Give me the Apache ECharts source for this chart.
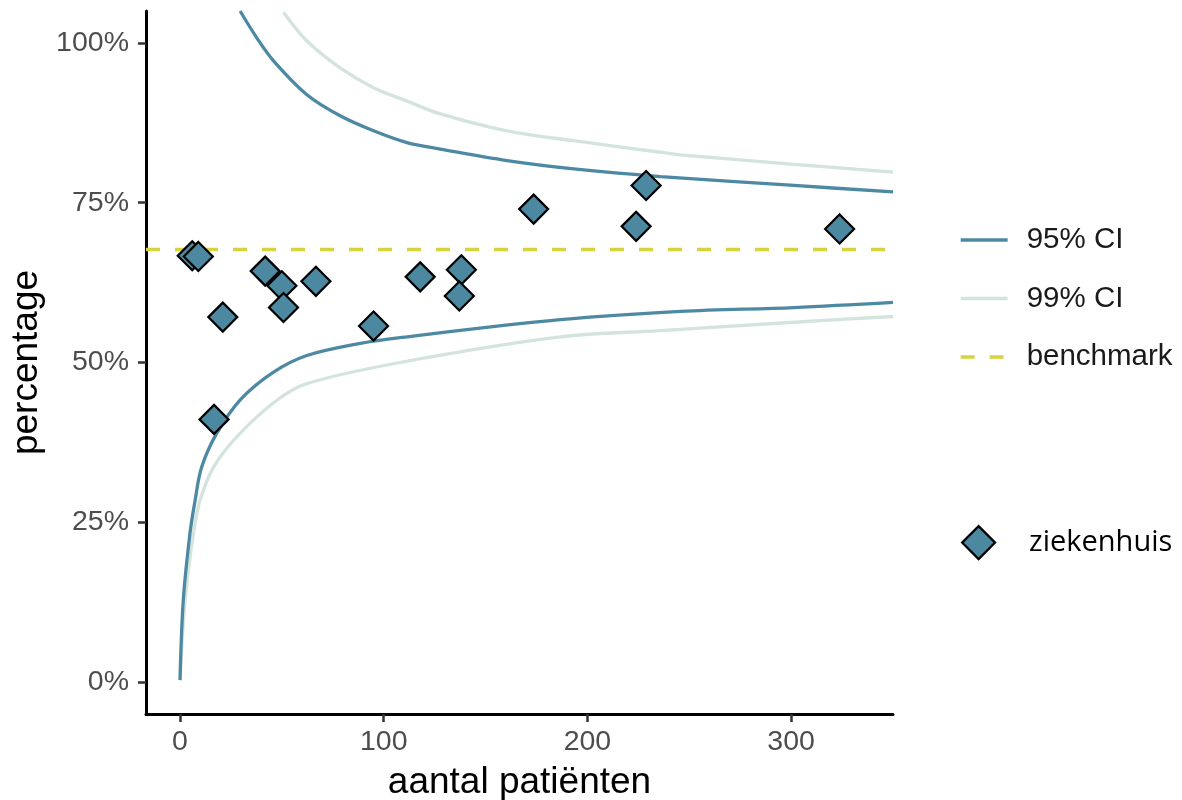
<!DOCTYPE html>
<html>
<head>
<meta charset="utf-8">
<script src="https://cdn.jsdelivr.net/npm/echarts@6/dist/echarts.min.js"></script>
<style>
  html, body { margin: 0; padding: 0; background: #fff; }
  #main { width: 1182px; height: 800px; }
</style>
</head>
<body>
<div id="main"></div>
<script>
// funnel plot: percentage per hospital against number of patients

// ziekenhuizen
const patientCounts = [6, 9, 16.7, 21, 41.8, 50, 50.8, 66.7, 95, 117.9, 138.1, 137.1, 173.6, 223.9, 228.8, 323.8];
const percentages   = [66.7, 66.6, 41.1, 57.1, 64.3, 62.0, 58.6, 62.7, 55.7, 63.4, 64.5, 60.4, 74.0, 71.3, 77.7, 70.9];

// control limits
const ci95UpperN   = [29.5, 37.7, 45.9, 62.3, 78.6, 95, 111.4, 127.8, 160.5, 193.3, 235.9, 301.4, 350];
const ci95UpperPct = [105, 100.8, 97.2, 91.9, 88.6, 86.25, 84.4, 83.4, 81.6, 80.3, 79.1, 77.7, 76.7];
const ci95LowerN   = [0, 1.6, 4.9, 7.4, 10.6, 18, 30, 45.9, 62.3, 88.5, 108, 186.7, 245.7, 301.4, 350];
const ci95LowerPct = [0.3, 12.8, 23.3, 28.4, 33.6, 38.9, 44.3, 48.5, 51.1, 53.0, 53.9, 56.7, 58.0, 58.6, 59.4];

const ci99UpperN   = [50.8, 62.3, 78.6, 95, 111.5, 127.8, 160.5, 193.3, 235.9, 245.7, 301.4, 350];
const ci99UpperPct = [104.8, 100.3, 96.1, 93.0, 90.9, 88.9, 86.25, 84.7, 82.9, 82.5, 81.0, 79.8];
const ci99LowerN   = [0, 2.5, 6.6, 9.8, 16.4, 28.5, 47.5, 62.3, 108, 186.7, 235.9, 301.4, 350];
const ci99LowerPct = [0.3, 12.8, 23.3, 28.4, 33.6, 38.6, 44.1, 46.7, 50.0, 54.0, 55.0, 56.3, 57.2];

const benchmark = 67.7;

// axes
const xMin = -16.7, xMax = 350;
const yMin = -5, yMax = 105;
const xTicks = [0, 100, 200, 300];
const yTicks = [0, 25, 50, 75, 100];

const col95 = '#4e89a4';
const col99 = '#d3e4dd';
const colBench = '#d7d33c';
const colPoint = '#4d88a1';

function zip(a, b) {
  return a.map((v, i) => [v, b[i]]);
}

const chart = echarts.init(document.getElementById('main'));

const tickFont = { fontFamily: 'Liberation Sans, Arial, sans-serif', fontSize: 28.5, color: '#4d4d4d' };
const titleFont = { fontFamily: 'Liberation Sans, Arial, sans-serif', fontSize: 37, color: '#000' };

function ciLine(name, data, color) {
  return {
    name: name,
    type: 'line',
    data: data,
    symbol: 'none',
    smooth: 0.35,
    clip: true,
    lineStyle: { color: color, width: 3.3 },
    itemStyle: { color: color },
    z: 2
  };
}

const option = {
  animation: false,
  backgroundColor: '#fff',
  grid: { left: 146, width: 747, top: 11, height: 703, outerBoundsMode: 'none' },
  xAxis: {
    type: 'value',
    min: xMin,
    max: xMax,
    name: 'aantal patiënten',
    nameLocation: 'middle',
    nameGap: 50,
    nameTextStyle: titleFont,
    splitLine: { show: false },
    axisLine: { onZero: false, lineStyle: { color: '#000', width: 3 } },
    axisTick: { customValues: xTicks, length: 8, lineStyle: { color: '#333', width: 2.5 } },
    axisLabel: Object.assign({ customValues: xTicks, margin: 14 }, tickFont)
  },
  yAxis: {
    type: 'value',
    min: yMin,
    max: yMax,
    name: 'percentage',
    nameLocation: 'middle',
    nameRotate: 90,
    nameGap: 96,
    nameTextStyle: titleFont,
    splitLine: { show: false },
    axisLine: { show: true, onZero: false, lineStyle: { color: '#000', width: 3 } },
    axisTick: { show: true, customValues: yTicks, length: 8, lineStyle: { color: '#333', width: 2.5 } },
    axisLabel: Object.assign({ customValues: yTicks, margin: 17, formatter: v => v + '%' }, tickFont)
  },
  legend: [
    {
      data: ['95% CI', '99% CI', 'benchmark'],
      orient: 'vertical',
      left: 954,
      top: 220,
      itemWidth: 47,
      itemHeight: 14,
      itemGap: 28.5,
      itemStyle: { opacity: 0 },
      lineStyle: { width: 3.3 },
      textStyle: {
        fontFamily: 'Liberation Sans, Arial, sans-serif',
        fontSize: 29.5,
        color: '#1a1a1a',
        lineHeight: 30,
        padding: [0, 0, 0, 14]
      }
    },
    {
      data: ['ziekenhuis'],
      orient: 'vertical',
      left: 956,
      top: 520,
      itemWidth: 33,
      itemHeight: 33,
      itemStyle: { borderColor: '#000', borderWidth: 2.2 },
      textStyle: {
        fontFamily: 'Open Sans, Noto Sans, sans-serif',
        fontSize: 29,
        color: '#000',
        padding: [0, 0, 0, 29]
      }
    }
  ],
  series: [
    ciLine('99% CI', zip(ci99UpperN, ci99UpperPct), col99),
    ciLine('99% CI', zip(ci99LowerN, ci99LowerPct), col99),
    ciLine('95% CI', zip(ci95UpperN, ci95UpperPct), col95),
    ciLine('95% CI', zip(ci95LowerN, ci95LowerPct), col95),
    {
      name: 'benchmark',
      type: 'line',
      data: [[xMin, benchmark], [xMax, benchmark]],
      symbol: 'none',
      lineStyle: { color: colBench, width: 3.5, type: [14, 15] },
      itemStyle: { color: colBench },
      z: 3
    },
    {
      name: 'ziekenhuis',
      type: 'scatter',
      data: zip(patientCounts, percentages),
      symbol: 'diamond',
      symbolSize: 29,
      itemStyle: { color: colPoint, borderColor: '#000', borderWidth: 2.2, opacity: 1 },
      z: 5
    }
  ]
};

chart.setOption(option);
</script>
</body>
</html>
